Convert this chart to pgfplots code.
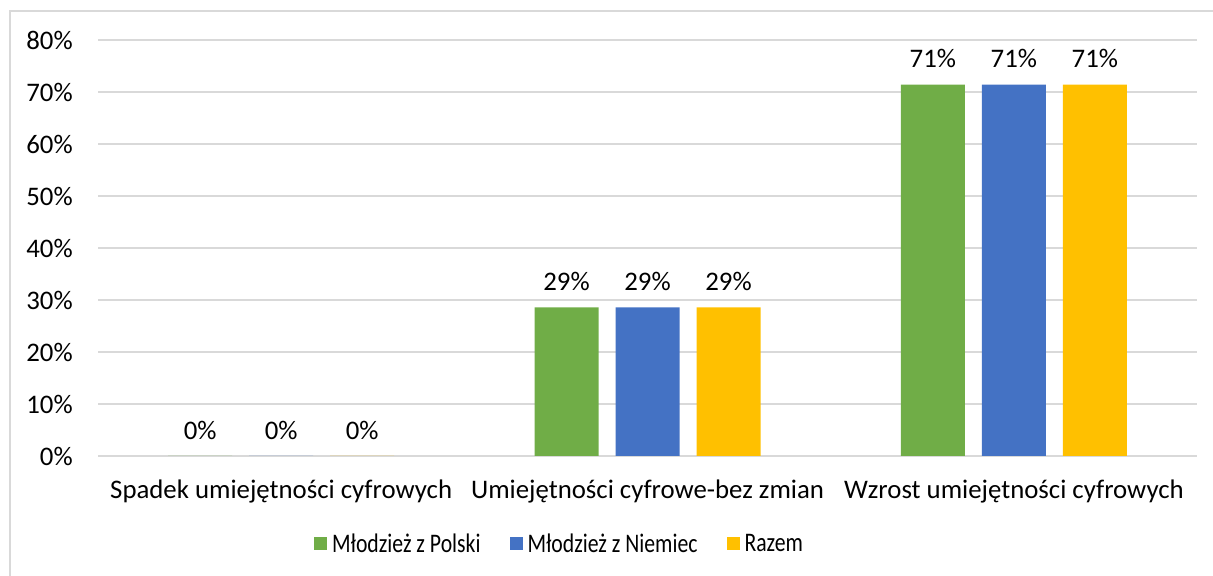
\documentclass[border=0pt]{standalone}
\usepackage{pgfplots}
\pgfplotsset{compat=1.18}
\usepackage{graphicx}
\usepackage{fontspec}
\setmainfont{Carlito}
\definecolor{cgreen}{HTML}{70AD47}
\definecolor{cblue}{HTML}{4472C4}
\definecolor{cyellow}{HTML}{FFC000}
\definecolor{cgrid}{HTML}{D9D9D9}
\newcommand{\lt}[1]{\scalebox{0.81}[1]{#1}}
\begin{document}
\fontsize{13.4bp}{16bp}\selectfont
\begin{tikzpicture}[x=0.5bp,y=0.5bp]
\useasboundingbox (0,0) rectangle (1213,576);
\draw[cgrid,line width=0.9bp] (10,0) -- (10,565) -- (1213,565);
\begin{axis}[
  at={(49bp,60bp)}, anchor=south west,
  scale only axis, width=549.5bp, height=208bp,
  ybar=8.5bp, bar width=32bp,
  xmin=-0.5, xmax=2.5, ymin=0, ymax=80,
  xtick={0,1,2},
  xticklabels={Spadek umiejętności cyfrowych, Umiejętności cyfrowe-bez zmian, Wzrost umiejętności cyfrowych},
  ytick={0,10,...,80},
  yticklabel={\pgfmathprintnumber{\tick}\%},
  /pgf/number format/assume math mode=true,
  ymajorgrids, grid style={cgrid,line width=0.75bp},
  axis line style={draw=none},
  major tick length=0pt,
  tick label style={font=\fontsize{13.4bp}{16bp}\selectfont, text=black},
  yticklabel style={xshift=-8bp},
  xticklabel style={yshift=-7.5bp},
  nodes near coords={\pgfmathprintnumber[fixed,precision=0]{\pgfplotspointmeta}\%},
  nodes near coords style={font=\fontsize{13.4bp}{16bp}\selectfont, anchor=south, yshift=3.5bp, /pgf/number format/assume math mode=true},
  legend columns=3,
  legend cell align=left,
  legend style={at={(0.419,-0.214)}, anchor=center, draw=none, fill=none,
    font=\fontsize{13.4bp}{16bp}\selectfont, nodes={inner sep=0pt},
    /tikz/every odd column/.append style={column sep=2.5bp},
    /tikz/every even column/.append style={column sep=14.5bp}},
  legend image code/.code={\fill[#1] (0bp,-2.5bp) rectangle (6.5bp,4bp);},
]
\addplot[fill=cgreen, draw=none] coordinates {(0,0) (1,28.57) (2,71.43)};
\addplot[fill=cblue, draw=none] coordinates {(0,0) (1,28.57) (2,71.43)};
\addplot[fill=cyellow, draw=none] coordinates {(0,0) (1,28.57) (2,71.43)};
\legend{\lt{Młodzież z Polski}, \lt{Młodzież z Niemiec}, \lt{Razem}}
\end{axis}
\end{tikzpicture}
\end{document}
